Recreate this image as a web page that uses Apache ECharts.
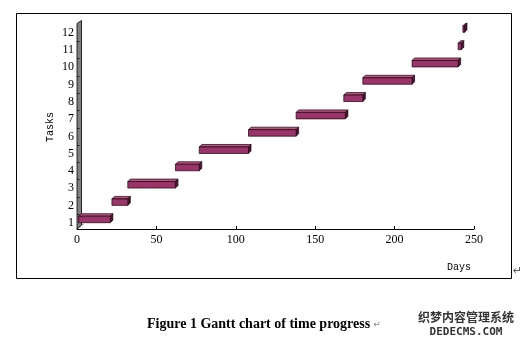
<!DOCTYPE html>
<html>
<head>
<meta charset="utf-8">
<script src="https://cdn.jsdelivr.net/npm/echarts@6/dist/echarts.min.js"></script>
<style>
html,body{margin:0;padding:0;background:#fff;}
#chart{width:526px;height:346px;}
</style>
</head>
<body>
<div id="chart"></div>
<script>
// ---- data ----
const taskLabels = ['1','2','3','4','5','6','7','8','9','10','11','12'];
const startDays = [1, 22, 32, 62, 77, 108, 138, 168, 180, 211, 240, 243];
const endDays   = [21, 32, 62, 77, 108, 138, 169, 180, 211, 240, 242, 244];
const dayTicks  = [0, 50, 100, 150, 200, 250];
const taskTickValues = taskLabels.map((t, i) => i + 1);
const taskBoundaries = taskLabels.slice(0, -1).map((t, i) => i + 1.5);

const Y_MIN = 0.65, Y_MAX = 12.7;

const barData = taskLabels.map((t, i) => [i + 1, startDays[i], endDays[i]]);

const chart = echarts.init(document.getElementById('chart'), null, {renderer: 'canvas'});

function renderBar(params, api) {
  const t = api.value(0), s = api.value(1), e = api.value(2);
  const p1 = api.coord([s, t]);
  const p2 = api.coord([e, t]);
  const h = 6.5, d = 2.5, lift = 3.5;
  const yc = p1[1] - lift;
  const top = yc - h / 2, bot = yc + h / 2;
  const x1 = p1[0], x2 = Math.max(p2[0], p1[0] + 1);
  return {
    type: 'group',
    children: [
      {type: 'polygon', shape: {points: [[x1, top], [x1 + d, top - d], [x2 + d, top - d], [x2, top]]},
       style: {fill: '#b8557f', stroke: '#1a0010', lineWidth: 0.7}},
      {type: 'polygon', shape: {points: [[x2, top], [x2 + d, top - d], [x2 + d, bot - d], [x2, bot]]},
       style: {fill: '#4d1533', stroke: '#1a0010', lineWidth: 0.7}},
      {type: 'rect', shape: {x: x1, y: top, width: x2 - x1, height: h},
       style: {fill: '#9b3468', stroke: '#1a0010', lineWidth: 0.7}}
    ]
  };
}

function renderWall(params, api) {
  const b = api.coord([0, Y_MIN]);
  const t = api.coord([0, Y_MAX]);
  const x = b[0], w = 4.5;
  return {
    type: 'group',
    children: [
      {type: 'polygon', shape: {points: [[x, b[1]], [x + 7, b[1] - 5], [x + w, b[1] - 5]]},
       style: {fill: '#c8c8c8', stroke: '#999', lineWidth: 0.5}},
      {type: 'polygon', shape: {points: [[x, b[1]], [x, t[1] + 3], [x + w, t[1]], [x + w, b[1] - 4]]},
       style: {fill: '#808080', stroke: '#000', lineWidth: 0.8}}
    ]
  };
}

const option = {
  animation: false,
  backgroundColor: '#fff',
  grid: {left: 77, right: 52, top: 20.5, bottom: 117},
  xAxis: {
    type: 'value', min: 0, max: 250, interval: 50,
    splitLine: {show: false},
    axisLine: {show: true, lineStyle: {color: '#000', width: 1}},
    axisTick: {show: true, inside: true, length: 3, lineStyle: {color: '#000'}},
    axisLabel: {color: '#000', fontFamily: 'Liberation Serif', fontSize: 12, margin: 5,
      customValues: dayTicks}
  },
  yAxis: {
    type: 'value', min: Y_MIN, max: Y_MAX, z: 5,
    splitLine: {show: false},
    axisLine: {show: false},
    axisTick: {show: true, inside: true, length: 2.5, customValues: taskBoundaries,
      lineStyle: {color: '#222', width: 1}},
    axisLabel: {color: '#000', fontFamily: 'Liberation Serif', fontSize: 12, margin: 3,
      customValues: taskTickValues, formatter: v => taskLabels[Math.round(v) - 1] || ''}
  },
  series: [
    {type: 'custom', renderItem: renderWall, data: [[0]], z: 2, silent: true,
     encode: {x: 0}},
    {type: 'custom', renderItem: renderBar, data: barData, z: 3,
     encode: {x: [1, 2], y: 0}}
  ],
  graphic: [
    {type: 'rect', left: 14, top: 11, shape: {width: 495, height: 265}, z: -1,
     style: {fill: 'none', stroke: '#000', lineWidth: 1}},
    {type: 'text', x: 50, y: 127, rotation: Math.PI / 2,
     style: {text: 'Tasks', fill: '#000', font: '10px "Liberation Mono"', align: 'center', verticalAlign: 'middle'}},
    {type: 'text', x: 459, y: 267,
     style: {text: 'Days', fill: '#000', font: '10px "Liberation Mono"', align: 'center', verticalAlign: 'middle'}},
    {type: 'text', x: 513, y: 271,
     style: {text: '↵', fill: '#555', font: '11px "DejaVu Sans"', align: 'left', verticalAlign: 'middle'}},
    {type: 'text', x: 147, y: 324,
     style: {text: 'Figure 1 Gantt chart of time progress', fill: '#000',
       font: 'bold 14px "Liberation Serif"', align: 'left', verticalAlign: 'middle'}},
    {type: 'text', x: 377, y: 325,
     style: {text: '↵', fill: '#888', font: '9px "DejaVu Sans"', align: 'center', verticalAlign: 'middle'}},
    {type: 'text', x: 466, y: 317,
     style: {text: '织梦内容管理系统', fill: '#333', font: 'bold 12px "Noto Sans CJK SC"',
       align: 'center', verticalAlign: 'middle'}},
    {type: 'text', x: 466, y: 332,
     style: {text: 'DEDECMS.COM', fill: '#333', font: 'bold 11px "DejaVu Sans Mono"',
       align: 'center', verticalAlign: 'middle'}}
  ]
};
chart.setOption(option);
</script>
</body>
</html>
